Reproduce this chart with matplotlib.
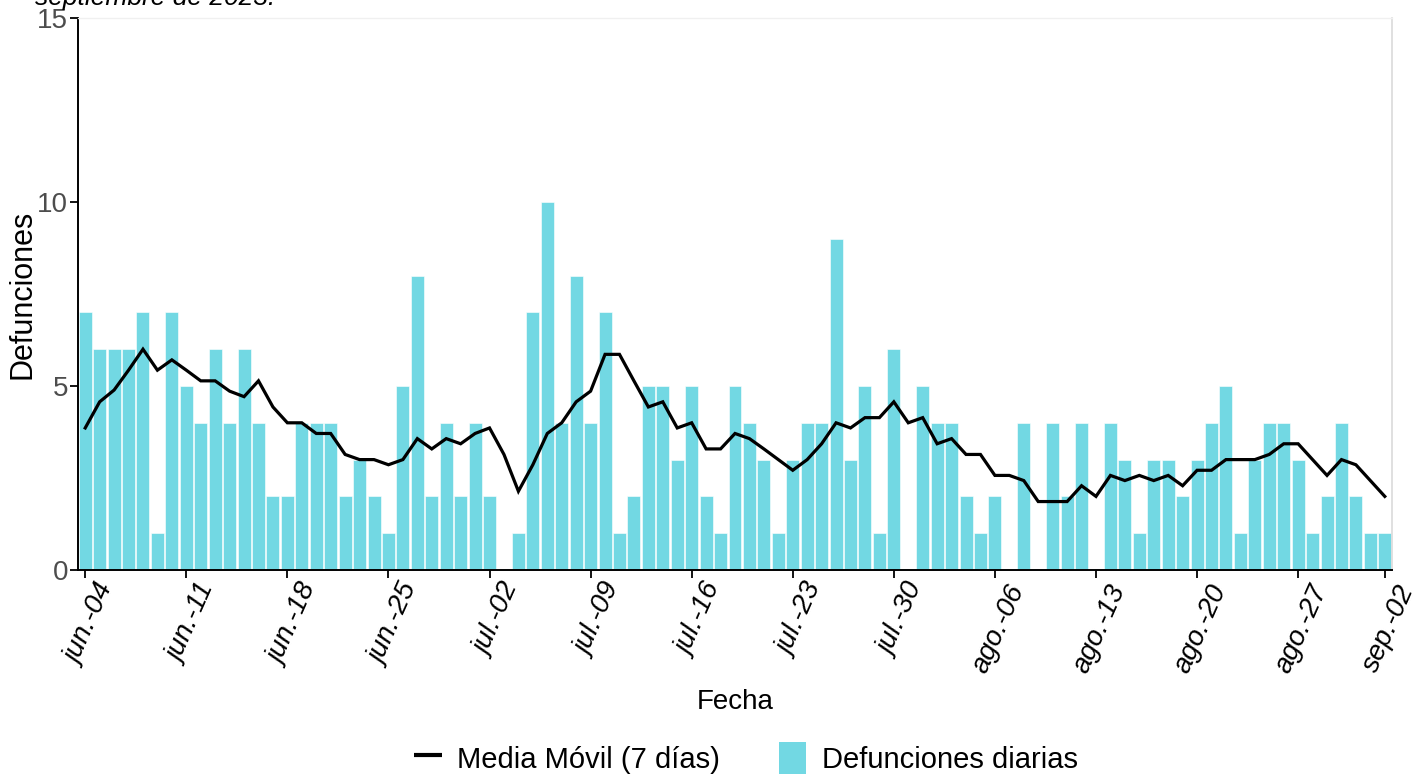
import matplotlib
matplotlib.use("Agg")
import matplotlib.pyplot as plt
import matplotlib.transforms as mtransforms
from matplotlib.lines import Line2D
from matplotlib.patches import Patch
import pandas as pd

# --- data ---
start_date = "2023-06-04"
end_date = "2023-09-02"

daily_deaths = [7, 6, 6, 6, 7, 1, 7, 5, 4, 6, 4, 6, 4, 2, 2, 4, 4, 4, 2, 3,
                2, 1, 5, 8, 2, 4, 2, 4, 2, 0, 1, 7, 10, 4, 8, 4, 7, 1, 2, 5,
                5, 3, 5, 2, 1, 5, 4, 3, 1, 3, 4, 4, 9, 3, 5, 1, 6, 0, 5, 4,
                4, 2, 1, 2, 0, 4, 0, 4, 2, 4, 0, 4, 3, 1, 3, 3, 2, 3, 4, 5,
                1, 3, 4, 4, 3, 1, 2, 4, 2, 1, 1]

moving_avg = [3.86, 4.57, 4.89, 5.43, 6.00, 5.43, 5.71, 5.43, 5.14, 5.14,
              4.86, 4.71, 5.14, 4.43, 4.00, 4.00, 3.71, 3.71, 3.14, 3.00,
              3.00, 2.86, 3.00, 3.57, 3.29, 3.57, 3.43, 3.71, 3.86, 3.14,
              2.14, 2.86, 3.71, 4.00, 4.57, 4.86, 5.86, 5.86, 5.14, 4.43,
              4.57, 3.86, 4.00, 3.29, 3.29, 3.71, 3.57, 3.29, 3.00, 2.71,
              3.00, 3.43, 4.00, 3.86, 4.14, 4.14, 4.57, 4.00, 4.14, 3.43,
              3.57, 3.14, 3.14, 2.57, 2.57, 2.43, 1.86, 1.86, 1.86, 2.29,
              2.00, 2.57, 2.43, 2.57, 2.43, 2.57, 2.29, 2.71, 2.71, 3.00,
              3.00, 3.00, 3.14, 3.43, 3.43, 3.00, 2.57, 3.00, 2.86, 2.43,
              2.00]

tick_dates = ["2023-06-04", "2023-06-11", "2023-06-18", "2023-06-25",
              "2023-07-02", "2023-07-09", "2023-07-16", "2023-07-23",
              "2023-07-30", "2023-08-06", "2023-08-13", "2023-08-20",
              "2023-08-27", "2023-09-02"]
tick_labels = ["jun.-04", "jun.-11", "jun.-18", "jun.-25", "jul.-02",
               "jul.-09", "jul.-16", "jul.-23", "jul.-30", "ago.-06",
               "ago.-13", "ago.-20", "ago.-27", "sep.-02"]

BAR_COLOR = "#72D8E3"
GREY_TEXT = "#4D4D4D"

plt.rcParams["font.family"] = ["Liberation Sans", "DejaVu Sans"]

dates = pd.date_range(start_date, end_date, freq="D")

fig = plt.figure(figsize=(14.23, 7.74), dpi=100)
W, H = 1423, 774
ax = fig.add_axes([78 / W, (H - 570) / H, (1392 - 78) / W, (570 - 18) / H])

ax.bar(dates, daily_deaths, width=0.9, color=BAR_COLOR, edgecolor="white",
       linewidth=0.4, zorder=2)
ax.plot(dates, moving_avg, color="black", lw=2.3, zorder=3,
        solid_joinstyle="miter")

half = pd.Timedelta(hours=12)
ax.set_xlim(dates[0] - half, dates[-1] + half)
ax.set_ylim(0, 15)
ax.set_yticks([0, 5, 10, 15])

# x ticks: marks from the axis, labels drawn by hand so they can sit
# slightly right of the tick (ggplot-style hjust=1 on rotated text)
tick_pos = pd.to_datetime(tick_dates)
ax.set_xticks(tick_pos)
ax.set_xticklabels([])
lbl_trans = ax.get_xaxis_transform() + mtransforms.ScaledTranslation(
    11 / 100, -11 / 100, fig.dpi_scale_trans)
for d, lab in zip(tick_pos, tick_labels):
    ax.text(d, 0, lab, transform=lbl_trans, rotation=66, ha="right",
            va="top", rotation_mode="anchor", fontstyle="italic",
            fontsize=20, clip_on=False)

ax.tick_params(axis="y", labelsize=20, labelcolor=GREY_TEXT, length=6,
               width=1.3, color="black", pad=1)
ax.tick_params(axis="x", length=6, width=1.3, color="black", pad=5)

for side in ["left", "bottom"]:
    ax.spines[side].set_color("black")
    ax.spines[side].set_linewidth(1.4)
ax.spines["top"].set_color("#F0F0F0")
ax.spines["right"].set_color("#DADADA")
ax.spines["top"].set_linewidth(1.0)
ax.spines["right"].set_linewidth(1.2)

ax.set_ylabel("Defunciones", fontsize=22)
ax.yaxis.set_label_coords(-0.031, 0.5)
ax.set_xlabel("Fecha", fontsize=20)
ax.xaxis.set_label_coords(0.5, -0.216)

# cut-off subtitle at top edge
fig.text(35 / W, 1 - 5 / H, "septiembre de 2023.", fontsize=19,
         fontstyle="italic", va="baseline", ha="left")

handles = [Line2D([0], [0], color="black", marker="_", markersize=20,
                  markeredgewidth=3, linestyle="none"),
           Patch(facecolor=BAR_COLOR, edgecolor="none")]
labels = ["Media Móvil (7 días)", "Defunciones diarias"]
fig.legend(handles, labels, loc="center", bbox_to_anchor=(746 / W, 1 - 758 / H),
           ncol=2, frameon=False, fontsize=21, handlelength=0.95,
           handleheight=1.3, columnspacing=2.0, handletextpad=0.55)

fig.savefig("out.png", dpi=100)
